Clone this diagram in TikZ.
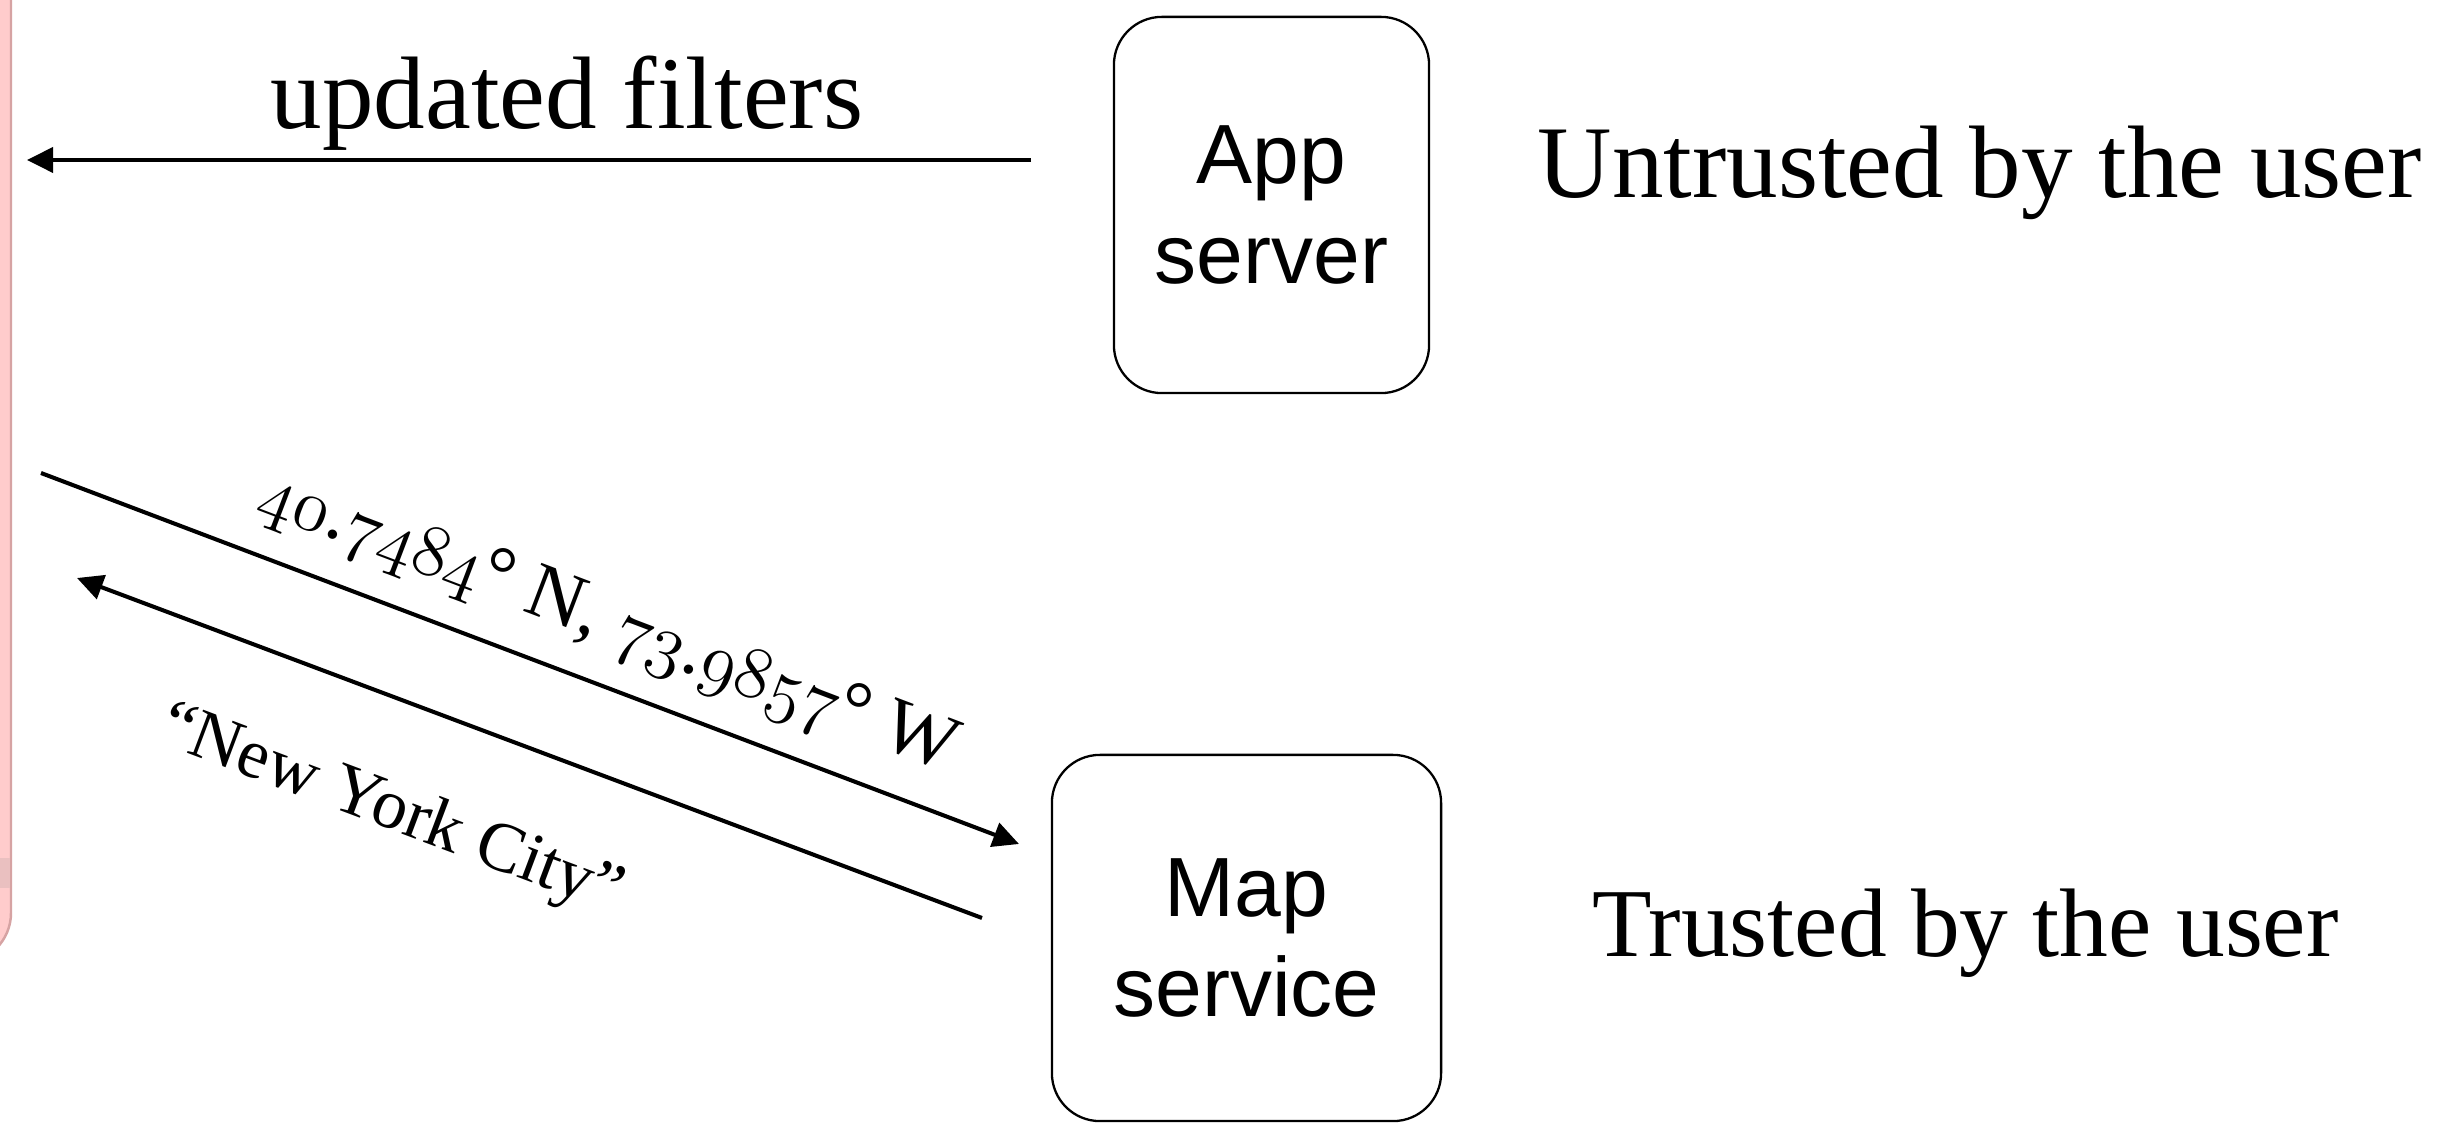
\documentclass[tikz,border=0pt]{standalone}
\usepackage{fontspec}
\setmainfont{Liberation Serif}
\newfontfamily\boxfont{Liberation Sans}
\usetikzlibrary{arrows.meta}
\definecolor{stripfill}{RGB}{255,204,204}
\definecolor{stripedge}{RGB}{214,163,163}
\definecolor{stripband}{RGB}{234,192,192}
% old-style figures taken from the Latin Modern math italic font
\newcommand\osnum[1]{{\usefont{OML}{lmm}{m}{it}#1}}
\begin{document}
\begin{tikzpicture}[x=0.01cm,y=-0.01cm,
  server/.style={draw, line width=0.65pt, rounded corners=0.48cm, align=center,
    font=\boxfont\fontsize{23.9}{28.7}\selectfont, inner sep=0pt},
  flow/.style={line width=1.15pt, -{Triangle[length=7.4pt,width=7.1pt]}},
  bigtext/.style={font=\fontsize{29.3}{34}\selectfont, inner sep=0pt},
  coordtext/.style={font=\fontsize{22.3}{26}\selectfont, inner sep=0pt}]
\useasboundingbox (0,0) rectangle (2438,1125);

% edge of the neighbouring pink panel
\begin{scope}
  \clip (0,0) rectangle (2438,1125);
  \draw[fill=stripfill, draw=stripedge, line width=0.7pt, rounded corners=0.5cm]
    (-80,-80) rectangle (11,963);
  \fill[stripband] (0,858) rectangle (9.5,888);
\end{scope}

% servers
\node[server, minimum width=3.15cm, minimum height=3.76cm] (app) at (1271.5,205) {App\\server};
\node[server, minimum width=3.89cm, minimum height=3.66cm] (map) at (1246.5,938) {Map\\service};

% trust annotations
\node[bigtext, anchor=base west] (untrusted) at (1537,198) {Untrusted by the user};
\node[bigtext, anchor=base west, font=\fontsize{27.7}{32}\selectfont] (trusted) at (1592,957) {Trusted by the user};

% filter update from the app server
\coordinate (filtersFrom) at (1031,160);
\coordinate (filtersTo) at (27,160);
\draw[flow] (filtersFrom) -- (filtersTo);
\node[bigtext, anchor=base] (filters) at (567,129) {updated filters};

% location lookup with the map service
\coordinate (queryFrom) at (41,473);
\coordinate (queryTo) at (1019,844);
\draw[flow] (queryFrom) -- (queryTo);
\coordinate (replyFrom) at (982,918);
\coordinate (replyTo) at (77,578);
\draw[flow] (replyFrom) -- (replyTo);

\node[coordtext, rotate=-20.8] (latlon) at (608,623)
  {\osnum{40}.\osnum{7484}° N, \osnum{73}.\osnum{9857}° W};
\node[coordtext, font=\fontsize{20}{24}\selectfont, rotate=-20.6] (city) at (391,812) {“New York City”};
\end{tikzpicture}
\end{document}
